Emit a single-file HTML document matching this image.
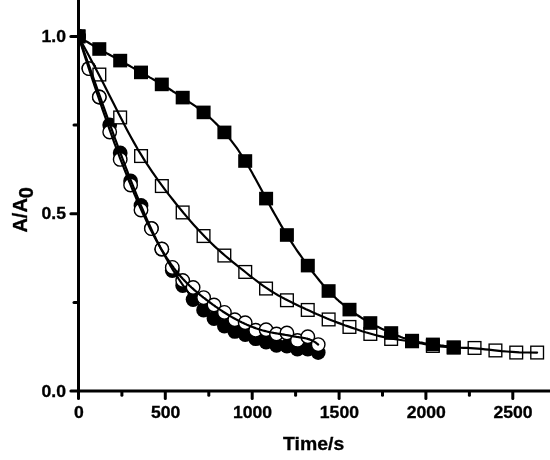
<!DOCTYPE html>
<html><head><meta charset="utf-8"><title>Chart</title>
<style>html,body{margin:0;padding:0;background:#fff}svg{display:block}</style>
</head><body>
<svg width="550" height="460" viewBox="0 0 550 460">
<defs><clipPath id="plot"><rect x="77.2" y="0" width="480" height="391.0"/></clipPath></defs>
<rect width="550" height="460" fill="#fff"/>
<g clip-path="url(#plot)">
<circle cx="78.5" cy="36.4" r="7.4" fill="#000"/>
<circle cx="88.9" cy="68.6" r="7.4" fill="#000"/>
<circle cx="99.3" cy="97.0" r="7.4" fill="#000"/>
<circle cx="109.7" cy="125.0" r="7.4" fill="#000"/>
<circle cx="120.2" cy="153.0" r="7.4" fill="#000"/>
<circle cx="130.6" cy="181.0" r="7.4" fill="#000"/>
<circle cx="141.0" cy="205.5" r="7.4" fill="#000"/>
<circle cx="151.4" cy="228.3" r="7.4" fill="#000"/>
<circle cx="161.8" cy="249.2" r="7.4" fill="#000"/>
<circle cx="172.3" cy="270.5" r="7.4" fill="#000"/>
<circle cx="182.7" cy="285.5" r="7.4" fill="#000"/>
<circle cx="193.1" cy="299.5" r="7.4" fill="#000"/>
<circle cx="203.6" cy="310.0" r="7.4" fill="#000"/>
<circle cx="214.0" cy="318.5" r="7.4" fill="#000"/>
<circle cx="224.4" cy="326.0" r="7.4" fill="#000"/>
<circle cx="234.8" cy="331.4" r="7.4" fill="#000"/>
<circle cx="245.2" cy="334.5" r="7.4" fill="#000"/>
<circle cx="255.7" cy="338.7" r="7.4" fill="#000"/>
<circle cx="266.1" cy="342.0" r="7.4" fill="#000"/>
<circle cx="276.5" cy="345.3" r="7.4" fill="#000"/>
<circle cx="286.9" cy="346.0" r="7.4" fill="#000"/>
<circle cx="297.4" cy="349.0" r="7.4" fill="#000"/>
<circle cx="307.8" cy="349.0" r="7.4" fill="#000"/>
<circle cx="318.2" cy="352.6" r="7.4" fill="#000"/>
<circle cx="78.5" cy="36.4" r="6.75" fill="#fff" stroke="#000" stroke-width="1.4"/>
<circle cx="88.9" cy="68.6" r="6.75" fill="#fff" stroke="#000" stroke-width="1.4"/>
<circle cx="99.3" cy="97.0" r="6.75" fill="#fff" stroke="#000" stroke-width="1.4"/>
<circle cx="109.7" cy="132.0" r="6.75" fill="#fff" stroke="#000" stroke-width="1.4"/>
<circle cx="120.2" cy="159.4" r="6.75" fill="#fff" stroke="#000" stroke-width="1.4"/>
<circle cx="130.6" cy="185.0" r="6.75" fill="#fff" stroke="#000" stroke-width="1.4"/>
<circle cx="141.0" cy="210.0" r="6.75" fill="#fff" stroke="#000" stroke-width="1.4"/>
<circle cx="151.4" cy="228.6" r="6.75" fill="#fff" stroke="#000" stroke-width="1.4"/>
<circle cx="161.8" cy="249.0" r="6.75" fill="#fff" stroke="#000" stroke-width="1.4"/>
<circle cx="172.3" cy="267.4" r="6.75" fill="#fff" stroke="#000" stroke-width="1.4"/>
<circle cx="182.7" cy="280.5" r="6.75" fill="#fff" stroke="#000" stroke-width="1.4"/>
<circle cx="193.1" cy="287.5" r="6.75" fill="#fff" stroke="#000" stroke-width="1.4"/>
<circle cx="203.6" cy="297.6" r="6.75" fill="#fff" stroke="#000" stroke-width="1.4"/>
<circle cx="214.0" cy="305.0" r="6.75" fill="#fff" stroke="#000" stroke-width="1.4"/>
<circle cx="224.4" cy="312.4" r="6.75" fill="#fff" stroke="#000" stroke-width="1.4"/>
<circle cx="234.8" cy="319.7" r="6.75" fill="#fff" stroke="#000" stroke-width="1.4"/>
<circle cx="245.2" cy="322.8" r="6.75" fill="#fff" stroke="#000" stroke-width="1.4"/>
<circle cx="255.7" cy="330.2" r="6.75" fill="#fff" stroke="#000" stroke-width="1.4"/>
<circle cx="266.1" cy="329.7" r="6.75" fill="#fff" stroke="#000" stroke-width="1.4"/>
<circle cx="276.5" cy="334.0" r="6.75" fill="#fff" stroke="#000" stroke-width="1.4"/>
<circle cx="286.9" cy="333.0" r="6.75" fill="#fff" stroke="#000" stroke-width="1.4"/>
<circle cx="297.4" cy="340.5" r="6.75" fill="#fff" stroke="#000" stroke-width="1.4"/>
<circle cx="307.8" cy="336.7" r="6.75" fill="#fff" stroke="#000" stroke-width="1.4"/>
<circle cx="318.2" cy="344.6" r="6.75" fill="#fff" stroke="#000" stroke-width="1.4"/>
<rect x="72.1" y="30.0" width="12.7" height="12.7" fill="#fff" stroke="#000" stroke-width="1.35"/>
<rect x="93.0" y="68.2" width="12.7" height="12.7" fill="#fff" stroke="#000" stroke-width="1.35"/>
<rect x="113.8" y="111.1" width="12.7" height="12.7" fill="#fff" stroke="#000" stroke-width="1.35"/>
<rect x="134.7" y="149.7" width="12.7" height="12.7" fill="#fff" stroke="#000" stroke-width="1.35"/>
<rect x="155.5" y="179.7" width="12.7" height="12.7" fill="#fff" stroke="#000" stroke-width="1.35"/>
<rect x="176.3" y="206.1" width="12.7" height="12.7" fill="#fff" stroke="#000" stroke-width="1.35"/>
<rect x="197.2" y="229.7" width="12.7" height="12.7" fill="#fff" stroke="#000" stroke-width="1.35"/>
<rect x="218.0" y="249.2" width="12.7" height="12.7" fill="#fff" stroke="#000" stroke-width="1.35"/>
<rect x="238.9" y="265.6" width="12.7" height="12.7" fill="#fff" stroke="#000" stroke-width="1.35"/>
<rect x="259.7" y="282.2" width="12.7" height="12.7" fill="#fff" stroke="#000" stroke-width="1.35"/>
<rect x="280.6" y="293.9" width="12.7" height="12.7" fill="#fff" stroke="#000" stroke-width="1.35"/>
<rect x="301.4" y="303.6" width="12.7" height="12.7" fill="#fff" stroke="#000" stroke-width="1.35"/>
<rect x="322.3" y="313.1" width="12.7" height="12.7" fill="#fff" stroke="#000" stroke-width="1.35"/>
<rect x="343.1" y="320.6" width="12.7" height="12.7" fill="#fff" stroke="#000" stroke-width="1.35"/>
<rect x="364.0" y="327.6" width="12.7" height="12.7" fill="#fff" stroke="#000" stroke-width="1.35"/>
<rect x="384.8" y="332.6" width="12.7" height="12.7" fill="#fff" stroke="#000" stroke-width="1.35"/>
<rect x="405.7" y="334.9" width="12.7" height="12.7" fill="#fff" stroke="#000" stroke-width="1.35"/>
<rect x="426.5" y="339.6" width="12.7" height="12.7" fill="#fff" stroke="#000" stroke-width="1.35"/>
<rect x="447.4" y="341.2" width="12.7" height="12.7" fill="#fff" stroke="#000" stroke-width="1.35"/>
<rect x="468.2" y="341.6" width="12.7" height="12.7" fill="#fff" stroke="#000" stroke-width="1.35"/>
<rect x="489.1" y="344.1" width="12.7" height="12.7" fill="#fff" stroke="#000" stroke-width="1.35"/>
<rect x="509.9" y="346.2" width="12.7" height="12.7" fill="#fff" stroke="#000" stroke-width="1.35"/>
<rect x="530.8" y="346.2" width="12.7" height="12.7" fill="#fff" stroke="#000" stroke-width="1.35"/>
<rect x="71.5" y="29.6" width="14" height="13.6" fill="#000"/>
<rect x="92.3" y="42.2" width="14" height="13.6" fill="#000"/>
<rect x="113.2" y="53.8" width="14" height="13.6" fill="#000"/>
<rect x="134.0" y="65.6" width="14" height="13.6" fill="#000"/>
<rect x="154.8" y="77.6" width="14" height="13.6" fill="#000"/>
<rect x="175.7" y="90.8" width="14" height="13.6" fill="#000"/>
<rect x="196.6" y="105.6" width="14" height="13.6" fill="#000"/>
<rect x="217.4" y="125.6" width="14" height="13.6" fill="#000"/>
<rect x="238.2" y="154.2" width="14" height="13.6" fill="#000"/>
<rect x="259.1" y="191.8" width="14" height="13.6" fill="#000"/>
<rect x="279.9" y="228.2" width="14" height="13.6" fill="#000"/>
<rect x="300.8" y="258.8" width="14" height="13.6" fill="#000"/>
<rect x="321.6" y="284.2" width="14" height="13.6" fill="#000"/>
<rect x="342.5" y="302.8" width="14" height="13.6" fill="#000"/>
<rect x="363.3" y="316.2" width="14" height="13.6" fill="#000"/>
<rect x="384.2" y="326.2" width="14" height="13.6" fill="#000"/>
<rect x="405.0" y="333.8" width="14" height="13.6" fill="#000"/>
<rect x="425.9" y="337.6" width="14" height="13.6" fill="#000"/>
<rect x="446.7" y="340.6" width="14" height="13.6" fill="#000"/>
<g fill="none" stroke="#000" stroke-width="2.2" stroke-linejoin="round" stroke-linecap="round">
<path d="M78.5,36.4 L79.3,38.6 L80.1,40.8 L80.9,43.0 L81.7,45.2 L82.5,47.4 L83.3,49.7 L84.1,51.9 L84.9,54.1 L85.7,56.3 L86.5,58.6 L87.3,60.8 L88.1,63.0 L88.9,65.3 L89.7,67.5 L90.5,69.8 L91.3,72.0 L92.1,74.3 L92.9,76.5 L93.7,78.8 L94.5,81.0 L95.3,83.3 L96.1,85.6 L96.9,87.8 L97.7,90.1 L98.5,92.3 L99.3,94.6 L100.1,96.8 L100.9,99.1 L101.7,101.3 L102.5,103.6 L103.3,105.8 L104.1,108.1 L104.9,110.3 L105.7,112.6 L106.5,114.8 L107.3,117.1 L108.1,119.3 L108.9,121.5 L109.7,123.8 L110.5,126.0 L111.3,128.2 L112.1,130.4 L112.9,132.6 L113.7,134.9 L114.5,137.1 L115.3,139.3 L116.1,141.4 L116.9,143.6 L117.7,145.8 L118.5,148.0 L119.3,150.2 L120.1,152.3 L121.0,154.5 L121.8,156.6 L122.6,158.8 L123.4,160.9 L124.2,163.0 L125.0,165.2 L125.8,167.3 L126.6,169.4 L127.4,171.5 L128.2,173.6 L129.0,175.6 L129.8,177.7 L130.6,179.8 L131.4,181.8 L132.2,183.8 L133.0,185.9 L133.8,187.9 L134.6,189.9 L135.4,191.9 L136.2,193.9 L137.0,195.9 L137.8,197.8 L138.6,199.8 L139.4,201.7 L140.2,203.6 L141.0,205.6 L141.8,207.5 L142.6,209.3 L143.4,211.2 L144.2,213.1 L145.0,214.9 L145.8,216.8 L146.6,218.6 L147.4,220.4 L148.2,222.2 L149.0,224.0 L149.8,225.7 L150.6,227.5 L151.4,229.2 L152.2,230.9 L153.0,232.6 L153.8,234.3 L154.6,236.0 L155.4,237.6 L156.2,239.3 L157.0,240.9 L157.8,242.5 L158.6,244.1 L159.4,245.6 L160.2,247.2 L161.0,248.8 L161.8,250.3 L162.7,251.8 L163.5,253.3 L164.3,254.8 L165.1,256.2 L165.9,257.7 L166.7,259.1 L167.5,260.6 L168.3,262.0 L169.1,263.4 L169.9,264.7 L170.7,266.1 L171.5,267.5 L172.3,268.8 L173.1,270.1 L173.9,271.4 L174.7,272.7 L175.5,274.0 L176.3,275.3 L177.1,276.5 L177.9,277.7 L178.7,279.0 L179.5,280.2 L180.3,281.3 L181.1,282.5 L181.9,283.7 L182.7,284.8 L183.5,286.0 L184.3,287.1 L185.1,288.2 L185.9,289.3 L186.7,290.4 L187.5,291.4 L188.3,292.5 L189.1,293.5 L189.9,294.5 L190.7,295.5 L191.5,296.5 L192.3,297.5 L193.1,298.5 L193.9,299.4 L194.7,300.4 L195.5,301.3 L196.3,302.2 L197.1,303.1 L197.9,304.0 L198.7,304.9 L199.5,305.7 L200.3,306.6 L201.1,307.4 L201.9,308.2 L202.7,309.0 L203.5,309.8 L204.4,310.6 L205.2,311.4 L206.0,312.1 L206.8,312.9 L207.6,313.6 L208.4,314.3 L209.2,315.0 L210.0,315.7 L210.8,316.4 L211.6,317.1 L212.4,317.7 L213.2,318.4 L214.0,319.0 L214.8,319.7 L215.6,320.3 L216.4,320.9 L217.2,321.5 L218.0,322.0 L218.8,322.6 L219.6,323.2 L220.4,323.7 L221.2,324.3 L222.0,324.8 L222.8,325.3 L223.6,325.8 L224.4,326.3 L225.2,326.8 L226.0,327.3 L226.8,327.7 L227.6,328.2 L228.4,328.6 L229.2,329.1 L230.0,329.5 L230.8,329.9 L231.6,330.4 L232.4,330.8 L233.2,331.2 L234.0,331.6 L234.8,331.9 L235.6,332.3 L236.4,332.7 L237.2,333.0 L238.0,333.4 L238.8,333.7 L239.6,334.1 L240.4,334.4 L241.2,334.7 L242.0,335.0 L242.8,335.3 L243.6,335.7 L244.4,335.9 L245.2,336.2 L246.1,336.5 L246.9,336.8 L247.7,337.1 L248.5,337.3 L249.3,337.6 L250.1,337.8 L250.9,338.1 L251.7,338.3 L252.5,338.6 L253.3,338.8 L254.1,339.0 L254.9,339.3 L255.7,339.5 L256.5,339.7 L257.3,339.9 L258.1,340.1 L258.9,340.3 L259.7,340.5 L260.5,340.7 L261.3,340.9 L262.1,341.1 L262.9,341.2 L263.7,341.4 L264.5,341.6 L265.3,341.8 L266.1,341.9 L266.9,342.1 L267.7,342.3 L268.5,342.4 L269.3,342.6 L270.1,342.7 L270.9,342.9 L271.7,343.0 L272.5,343.2 L273.3,343.3 L274.1,343.5 L274.9,343.6 L275.7,343.8 L276.5,343.9 L277.3,344.0 L278.1,344.2 L278.9,344.3 L279.7,344.5 L280.5,344.6 L281.3,344.7 L282.1,344.9 L282.9,345.0 L283.7,345.1 L284.5,345.3 L285.3,345.4 L286.1,345.5 L286.9,345.7 L287.8,345.8 L288.6,345.9 L289.4,346.1 L290.2,346.2 L291.0,346.4 L291.8,346.5 L292.6,346.6 L293.4,346.8 L294.2,346.9 L295.0,347.1 L295.8,347.2 L296.6,347.4 L297.4,347.5 L298.2,347.7 L299.0,347.8 L299.8,348.0 L300.6,348.1 L301.4,348.3 L302.2,348.5 L303.0,348.6 L303.8,348.8 L304.6,349.0 L305.4,349.2 L306.2,349.4 L307.0,349.5 L307.8,349.7 L308.6,349.9 L309.4,350.1 L310.2,350.3 L311.0,350.5 L311.8,350.7 L312.6,351.0 L313.4,351.2 L314.2,351.4 L315.0,351.6 L315.8,351.9 L316.6,352.1 L317.4,352.3 L318.2,352.6"/>
<path d="M78.5,36.4 L79.3,38.9 L80.1,41.4 L80.9,43.9 L81.7,46.4 L82.5,48.9 L83.3,51.4 L84.1,53.8 L84.9,56.3 L85.7,58.8 L86.5,61.2 L87.3,63.7 L88.1,66.2 L88.9,68.6 L89.7,71.1 L90.5,73.5 L91.3,75.9 L92.1,78.3 L92.9,80.8 L93.7,83.2 L94.5,85.6 L95.3,88.0 L96.1,90.4 L96.9,92.8 L97.7,95.1 L98.5,97.5 L99.3,99.9 L100.1,102.2 L100.9,104.6 L101.7,106.9 L102.5,109.3 L103.3,111.6 L104.1,113.9 L104.9,116.2 L105.7,118.5 L106.5,120.8 L107.3,123.1 L108.1,125.4 L108.9,127.7 L109.7,129.9 L110.5,132.2 L111.3,134.4 L112.1,136.6 L112.9,138.8 L113.7,141.1 L114.5,143.3 L115.3,145.4 L116.1,147.6 L116.9,149.8 L117.7,152.0 L118.5,154.1 L119.3,156.2 L120.1,158.4 L121.0,160.5 L121.8,162.6 L122.6,164.7 L123.4,166.7 L124.2,168.8 L125.0,170.9 L125.8,172.9 L126.6,174.9 L127.4,177.0 L128.2,179.0 L129.0,181.0 L129.8,182.9 L130.6,184.9 L131.4,186.9 L132.2,188.8 L133.0,190.7 L133.8,192.6 L134.6,194.5 L135.4,196.4 L136.2,198.3 L137.0,200.2 L137.8,202.0 L138.6,203.8 L139.4,205.7 L140.2,207.5 L141.0,209.2 L141.8,211.0 L142.6,212.8 L143.4,214.5 L144.2,216.2 L145.0,217.9 L145.8,219.6 L146.6,221.3 L147.4,223.0 L148.2,224.6 L149.0,226.3 L149.8,227.9 L150.6,229.5 L151.4,231.0 L152.2,232.6 L153.0,234.2 L153.8,235.7 L154.6,237.2 L155.4,238.7 L156.2,240.2 L157.0,241.6 L157.8,243.1 L158.6,244.5 L159.4,245.9 L160.2,247.3 L161.0,248.7 L161.8,250.0 L162.7,251.4 L163.5,252.7 L164.3,254.0 L165.1,255.3 L165.9,256.5 L166.7,257.8 L167.5,259.0 L168.3,260.2 L169.1,261.4 L169.9,262.5 L170.7,263.7 L171.5,264.8 L172.3,265.9 L173.1,267.0 L173.9,268.1 L174.7,269.1 L175.5,270.2 L176.3,271.2 L177.1,272.2 L177.9,273.1 L178.7,274.1 L179.5,275.0 L180.3,276.0 L181.1,276.9 L181.9,277.8 L182.7,278.7 L183.5,279.5 L184.3,280.4 L185.1,281.2 L185.9,282.0 L186.7,282.9 L187.5,283.7 L188.3,284.4 L189.1,285.2 L189.9,286.0 L190.7,286.7 L191.5,287.5 L192.3,288.2 L193.1,288.9 L193.9,289.6 L194.7,290.3 L195.5,291.0 L196.3,291.7 L197.1,292.4 L197.9,293.1 L198.7,293.7 L199.5,294.4 L200.3,295.1 L201.1,295.7 L201.9,296.3 L202.7,297.0 L203.5,297.6 L204.4,298.2 L205.2,298.9 L206.0,299.5 L206.8,300.1 L207.6,300.7 L208.4,301.3 L209.2,301.9 L210.0,302.5 L210.8,303.1 L211.6,303.7 L212.4,304.3 L213.2,304.9 L214.0,305.4 L214.8,306.0 L215.6,306.6 L216.4,307.1 L217.2,307.7 L218.0,308.3 L218.8,308.8 L219.6,309.3 L220.4,309.9 L221.2,310.4 L222.0,310.9 L222.8,311.5 L223.6,312.0 L224.4,312.5 L225.2,313.0 L226.0,313.5 L226.8,314.0 L227.6,314.5 L228.4,315.0 L229.2,315.5 L230.0,316.0 L230.8,316.4 L231.6,316.9 L232.4,317.4 L233.2,317.8 L234.0,318.3 L234.8,318.7 L235.6,319.1 L236.4,319.6 L237.2,320.0 L238.0,320.4 L238.8,320.8 L239.6,321.3 L240.4,321.7 L241.2,322.1 L242.0,322.5 L242.8,322.8 L243.6,323.2 L244.4,323.6 L245.2,324.0 L246.1,324.3 L246.9,324.7 L247.7,325.0 L248.5,325.4 L249.3,325.7 L250.1,326.0 L250.9,326.4 L251.7,326.7 L252.5,327.0 L253.3,327.3 L254.1,327.6 L254.9,327.9 L255.7,328.2 L256.5,328.5 L257.3,328.7 L258.1,329.0 L258.9,329.3 L259.7,329.5 L260.5,329.8 L261.3,330.0 L262.1,330.3 L262.9,330.5 L263.7,330.7 L264.5,330.9 L265.3,331.1 L266.1,331.3 L266.9,331.5 L267.7,331.7 L268.5,331.9 L269.3,332.0 L270.1,332.2 L270.9,332.4 L271.7,332.5 L272.5,332.7 L273.3,332.8 L274.1,333.0 L274.9,333.1 L275.7,333.3 L276.5,333.4 L277.3,333.5 L278.1,333.7 L278.9,333.8 L279.7,333.9 L280.5,334.1 L281.3,334.2 L282.1,334.3 L282.9,334.4 L283.7,334.6 L284.5,334.7 L285.3,334.9 L286.1,335.0 L286.9,335.1 L287.8,335.3 L288.6,335.4 L289.4,335.6 L290.2,335.7 L291.0,335.9 L291.8,336.0 L292.6,336.2 L293.4,336.3 L294.2,336.5 L295.0,336.6 L295.8,336.7 L296.6,336.9 L297.4,337.0 L298.2,337.1 L299.0,337.2 L299.8,337.4 L300.6,337.5 L301.4,337.6 L302.2,337.7 L303.0,337.8 L303.8,338.0 L304.6,338.1 L305.4,338.3 L306.2,338.5 L307.0,338.6 L307.8,338.9 L308.6,339.1 L309.4,339.4 L310.2,339.7 L311.0,340.0 L311.8,340.3 L312.6,340.7 L313.4,341.2 L314.2,341.6 L315.0,342.1 L315.8,342.7 L316.6,343.3 L317.4,343.9 L318.2,344.6"/>
<path d="M78.5,36.4 L88.1,54.3 L96.3,69.7 L103.2,83.0 L109.0,94.5 L114.1,104.5 L118.6,113.6 L122.9,121.8 L126.8,129.4 L130.6,136.5 L134.3,143.1 L137.8,149.3 L141.4,155.1 L144.9,160.8 L148.4,166.2 L151.9,171.4 L155.4,176.4 L158.9,181.3 L162.4,186.1 L165.9,190.8 L169.4,195.4 L172.9,199.8 L176.4,204.2 L179.9,208.5 L183.4,212.8 L186.9,216.9 L190.4,221.0 L193.9,224.9 L197.4,228.8 L200.9,232.6 L204.4,236.2 L207.9,239.8 L211.4,243.2 L214.9,246.6 L218.4,249.8 L221.9,252.9 L225.5,256.0 L229.0,258.9 L232.5,261.8 L236.0,264.7 L239.5,267.5 L243.0,270.2 L246.5,273.0 L250.0,275.8 L253.5,278.5 L257.0,281.2 L260.5,283.8 L264.0,286.3 L267.5,288.7 L271.0,291.0 L274.5,293.1 L278.0,295.2 L281.5,297.1 L285.0,299.0 L288.5,300.8 L292.0,302.5 L295.5,304.2 L299.0,305.9 L302.5,307.5 L306.0,309.2 L309.6,310.8 L313.1,312.4 L316.6,314.0 L320.1,315.5 L323.6,317.0 L327.1,318.5 L330.6,319.9 L334.1,321.3 L337.6,322.6 L341.1,323.9 L344.6,325.2 L348.1,326.4 L351.6,327.6 L355.1,328.8 L358.6,330.0 L362.1,331.2 L365.6,332.3 L369.1,333.3 L372.6,334.3 L376.1,335.3 L379.6,336.1 L383.1,336.9 L386.6,337.7 L390.1,338.4 L393.7,339.0 L397.2,339.5 L400.7,340.0 L404.2,340.5 L407.7,341.0 L411.2,341.6 L414.7,342.2 L418.2,342.8 L421.7,343.5 L425.2,344.2 L428.7,344.8 L432.2,345.4 L435.7,345.9 L439.2,346.3 L442.7,346.7 L446.2,346.9 L449.7,347.2 L453.2,347.4 L456.7,347.5 L460.2,347.7 L463.7,347.8 L467.2,347.9 L470.7,348.1 L474.2,348.3 L477.8,348.6 L481.3,348.9 L485.0,349.3 L488.8,349.7 L492.7,350.1 L497.0,350.6 L501.5,351.1 L506.6,351.5 L512.4,351.9 L519.3,352.3 L527.5,352.5 L537.1,352.6"/>
<path d="M78.5,36.4 L80.3,37.6 L82.2,38.8 L84.1,40.0 L86.0,41.2 L87.9,42.3 L89.8,43.5 L91.7,44.6 L93.5,45.7 L95.4,46.8 L97.3,47.9 L99.2,48.9 L101.1,50.0 L103.0,51.1 L104.9,52.1 L106.7,53.2 L108.6,54.2 L110.5,55.3 L112.4,56.3 L114.3,57.3 L116.2,58.4 L118.1,59.4 L119.9,60.5 L121.8,61.5 L123.7,62.6 L125.6,63.7 L127.5,64.7 L129.4,65.8 L131.3,66.9 L133.1,67.9 L135.0,69.0 L136.9,70.1 L138.8,71.2 L140.7,72.2 L142.6,73.3 L144.5,74.4 L146.3,75.4 L148.2,76.5 L150.1,77.6 L152.0,78.6 L153.9,79.7 L155.8,80.8 L157.7,81.9 L159.5,83.0 L161.4,84.1 L163.3,85.3 L165.2,86.4 L167.1,87.6 L169.0,88.8 L170.9,90.0 L172.7,91.2 L174.6,92.4 L176.5,93.6 L178.4,94.8 L180.3,96.0 L182.2,97.3 L184.1,98.5 L185.9,99.7 L187.8,101.0 L189.7,102.3 L191.6,103.6 L193.5,104.9 L195.4,106.2 L197.3,107.6 L199.1,109.0 L201.0,110.4 L202.9,111.9 L204.8,113.4 L206.7,115.0 L208.6,116.6 L210.5,118.3 L212.4,120.0 L214.2,121.8 L216.1,123.6 L218.0,125.5 L219.9,127.5 L221.8,129.5 L223.7,131.6 L225.6,133.7 L227.4,136.0 L229.3,138.3 L231.2,140.6 L233.1,143.1 L235.0,145.6 L236.9,148.2 L238.8,151.0 L240.6,153.8 L242.5,156.7 L244.4,159.6 L246.3,162.7 L248.2,165.9 L250.1,169.2 L252.0,172.5 L253.8,175.9 L255.7,179.3 L257.6,182.8 L259.5,186.3 L261.4,189.8 L263.3,193.3 L265.2,196.9 L267.0,200.3 L268.9,203.8 L270.8,207.2 L272.7,210.6 L274.6,214.0 L276.5,217.3 L278.4,220.6 L280.2,223.9 L282.1,227.1 L284.0,230.2 L285.9,233.3 L287.8,236.3 L289.7,239.3 L291.6,242.3 L293.4,245.1 L295.3,248.0 L297.2,250.8 L299.1,253.5 L301.0,256.2 L302.9,258.8 L304.8,261.5 L306.6,264.0 L308.5,266.6 L310.4,269.1 L312.3,271.6 L314.2,274.0 L316.1,276.4 L318.0,278.7 L319.8,281.0 L321.7,283.3 L323.6,285.5 L325.5,287.6 L327.4,289.7 L329.3,291.7 L331.2,293.6 L333.1,295.5 L334.9,297.3 L336.8,299.1 L338.7,300.8 L340.6,302.4 L342.5,304.0 L344.4,305.6 L346.3,307.1 L348.1,308.6 L350.0,310.0 L351.9,311.4 L353.8,312.7 L355.7,314.0 L357.6,315.3 L359.5,316.5 L361.3,317.7 L363.2,318.9 L365.1,320.0 L367.0,321.1 L368.9,322.2 L370.8,323.2 L372.7,324.2 L374.5,325.2 L376.4,326.2 L378.3,327.1 L380.2,328.0 L382.1,328.9 L384.0,329.8 L385.9,330.7 L387.7,331.5 L389.6,332.3 L391.5,333.1 L393.4,333.9 L395.3,334.7 L397.2,335.5 L399.1,336.2 L400.9,337.0 L402.8,337.7 L404.7,338.3 L406.6,339.0 L408.5,339.6 L410.4,340.1 L412.3,340.7 L414.1,341.1 L416.0,341.6 L417.9,342.0 L419.8,342.4 L421.7,342.7 L423.6,343.1 L425.5,343.4 L427.3,343.6 L429.2,343.9 L431.1,344.2 L433.0,344.4 L434.9,344.7 L436.8,344.9 L438.7,345.1 L440.5,345.4 L442.4,345.6 L444.3,345.9 L446.2,346.1 L448.1,346.4 L450.0,346.7 L451.9,347.0 L453.7,347.4"/>
</g>
</g>
<g stroke="#000" stroke-width="3.0" fill="none" stroke-linecap="round">
<path d="M78.5,-3 V398.6"/>
<path d="M70.9,391.0 H549.5"/>
<path d="M165.3,392.0 V398.6"/>
<path d="M252.2,392.0 V398.6"/>
<path d="M339.1,392.0 V398.6"/>
<path d="M425.9,392.0 V398.6"/>
<path d="M512.8,392.0 V398.6"/>
<path d="M121.9,392.0 V395.2"/>
<path d="M208.8,392.0 V395.2"/>
<path d="M295.6,392.0 V395.2"/>
<path d="M382.5,392.0 V395.2"/>
<path d="M469.4,392.0 V395.2"/>
<path d="M556.3,392.0 V395.2"/>
<path d="M70.9,213.7 H77.5"/>
<path d="M70.9,36.4 H77.5"/>
<path d="M74,302.4 H77.5"/>
<path d="M74,125.0 H77.5"/>
</g>
<g font-family="Liberation Sans, Arial, Helvetica, sans-serif" font-weight="bold" font-size="16" fill="#000" stroke="#000" stroke-width="0.3">
<text transform="translate(78.8,417.6) scale(1.1,1)" text-anchor="middle">0</text>
<text transform="translate(165.6,417.6) scale(1.1,1)" text-anchor="middle">500</text>
<text transform="translate(252.5,417.6) scale(1.1,1)" text-anchor="middle">1000</text>
<text transform="translate(339.4,417.6) scale(1.1,1)" text-anchor="middle">1500</text>
<text transform="translate(426.2,417.6) scale(1.1,1)" text-anchor="middle">2000</text>
<text transform="translate(513.1,417.6) scale(1.1,1)" text-anchor="middle">2500</text>
<text transform="translate(66,396.5) scale(1.1,1)" text-anchor="end">0.0</text>
<text transform="translate(66,219.2) scale(1.1,1)" text-anchor="end">0.5</text>
<text transform="translate(66,41.9) scale(1.1,1)" text-anchor="end">1.0</text>
<text transform="translate(313.6,450) scale(1.05,1)" text-anchor="middle" font-size="18.5">Time/s</text>
<text transform="translate(27,232.6) rotate(-90) scale(1,1.05)" font-size="20">A/A<tspan dy="6">0</tspan></text>
</g>
</svg>
</body></html>
